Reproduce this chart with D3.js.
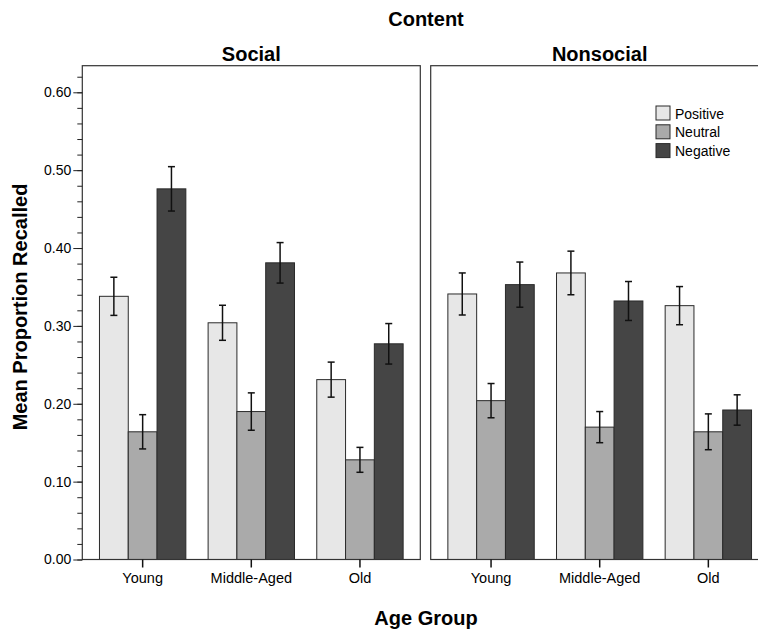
<!DOCTYPE html>
<html>
<head>
<meta charset="utf-8">
<script src="https://cdn.jsdelivr.net/npm/d3@7"></script>
<style>
  body { margin: 0; background: #fff; }
  text { font-family: "Liberation Sans", Arial, sans-serif; fill: #000; }
</style>
</head>
<body>
<svg id="chart"></svg>
<script>
const ages = ["Young", "Middle-Aged", "Old"];
const valences = ["Positive", "Neutral", "Negative"];
const panels = ["Social", "Nonsocial"];

// means per age group: [Positive, Neutral, Negative]
const socialMeans = [[0.338, 0.164, 0.476], [0.304, 0.190, 0.381], [0.231, 0.128, 0.277]];
const socialErr = [[0.0245, 0.022, 0.0285], [0.0225, 0.024, 0.026], [0.0225, 0.016, 0.026]];
const nonsocialMeans = [[0.341, 0.204, 0.353], [0.368, 0.170, 0.332], [0.326, 0.164, 0.192]];
const nonsocialErr = [[0.027, 0.022, 0.029], [0.028, 0.020, 0.025], [0.0245, 0.023, 0.0195]];

const yMajor = [0, 0.1, 0.2, 0.3, 0.4, 0.5, 0.6];
const yMinor = d3.range(0, 32).map(i => i * 0.02);

const width = 758;
const height = 635;
const plotTop = 65.7;
const base = 559.5;
const panelW = 338;
const panelX = [82.3, 430.7];

const colors = { Positive: "#e7e7e7", Neutral: "#aaaaaa", Negative: "#454545" };

const svg = d3.select("#chart").attr("width", width).attr("height", height);

const yScale = d3.scaleLinear().domain([0, 0.6]).range([base, 92.3]);

const x0 = d3.scaleBand().domain(ages).range([0, panelW]).paddingInner(0.205).paddingOuter(0.158);
const x1 = d3.scaleBand().domain(valences).range([0, x0.bandwidth()]).padding(0);

const rows = [];
[socialMeans, nonsocialMeans].forEach(function (m, p) {
  const err = p == 0 ? socialErr : nonsocialErr;
  ages.forEach(function (a, i) {
    valences.forEach(function (v, j) {
      rows.push({ panel: panels[p], age: a, valence: v, mean: m[i][j], se: err[i][j] });
    });
  });
});

// titles
svg.append("text").attr("x", 426).attr("y", 26).attr("text-anchor", "middle")
  .attr("font-size", 20).attr("font-weight", "bold").text("Content");

panels.forEach(function (name, p) {
  const g = svg.append("g").attr("transform", "translate(" + panelX[p] + ",0)");

  g.append("text").attr("x", panelW / 2).attr("y", 61).attr("text-anchor", "middle")
    .attr("font-size", 20).attr("font-weight", "bold").text(name);

  const data = rows.filter(d => d.panel == name);

  g.selectAll("rect.bar")
    .data(data)
    .join("rect")
    .attr("class", "bar")
    .attr("x", d => x0(d.age) + x1(d.valence))
    .attr("y", d => yScale(d.mean))
    .attr("width", x1.bandwidth())
    .attr("height", d => base - yScale(d.mean))
    .attr("fill", d => colors[d.valence])
    .attr("stroke", "#2a2a2a")
    .attr("stroke-width", 1);

  const eb = g.selectAll("g.err").data(data).join("g").attr("class", "err")
    .attr("transform", d => "translate(" + (x0(d.age) + x1(d.valence) + x1.bandwidth() / 2) + ",0)");
  eb.append("line").attr("y1", d => yScale(d.mean + d.se)).attr("y2", d => yScale(d.mean - d.se));
  eb.append("line").attr("x1", -3.5).attr("x2", 3.5)
    .attr("y1", d => yScale(d.mean + d.se)).attr("y2", d => yScale(d.mean + d.se));
  eb.append("line").attr("x1", -3.5).attr("x2", 3.5)
    .attr("y1", d => yScale(d.mean - d.se)).attr("y2", d => yScale(d.mean - d.se));
  eb.selectAll("line").attr("stroke", "#111").attr("stroke-width", 1.5);

  // panel frame
  g.append("rect").attr("x", 0).attr("y", plotTop).attr("width", panelW).attr("height", base - plotTop)
    .attr("fill", "none").attr("stroke", "#333").attr("stroke-width", 1.2);

  const axisBottom = d3.axisBottom(x0).tickSize(8).tickPadding(5).tickSizeOuter(0);
  const ax = g.append("g").attr("transform", "translate(0," + base + ")").call(axisBottom);
  ax.select(".domain").remove();
  ax.selectAll("line").attr("stroke", "#111").attr("stroke-width", 1.5);
  ax.selectAll("text").attr("font-size", 14.5).attr("font-family", "Liberation Sans, Arial, sans-serif");
});

// left axis: minor + major ticks
const minor = svg.append("g").attr("transform", "translate(" + panelX[0] + ",0)")
  .call(d3.axisLeft(yScale).tickValues(yMinor).tickSize(5).tickFormat(""));
minor.select(".domain").remove();
minor.selectAll("line").attr("stroke", "#222");

const major = svg.append("g").attr("transform", "translate(" + panelX[0] + ",0)")
  .call(d3.axisLeft(yScale).tickValues(yMajor).tickSize(9).tickPadding(2).tickFormat(d3.format(".2f")));
major.select(".domain").remove();
major.selectAll("line").attr("stroke", "#222");
major.selectAll("text").attr("font-size", 14).attr("font-family", "Liberation Sans, Arial, sans-serif");

// axis titles
svg.append("text").attr("transform", "translate(27,307) rotate(-90)").attr("text-anchor", "middle")
  .attr("font-size", 20).attr("font-weight", "bold").text("Mean Proportion Recalled");
svg.append("text").attr("x", 426).attr("y", 625).attr("text-anchor", "middle")
  .attr("font-size", 20).attr("font-weight", "bold").text("Age Group");

// legend
const legend = svg.append("g").attr("transform", "translate(656,106)");
const li = legend.selectAll("g").data(valences).join("g")
  .attr("transform", (d, i) => "translate(0," + i * 18.8 + ")");
li.append("rect").attr("width", 14).attr("height", 14)
  .attr("fill", d => colors[d]).attr("stroke", "#2a2a2a").attr("stroke-width", 1);
li.append("text").attr("x", 19).attr("y", 12.5).attr("font-size", 14).text(d => d);
</script>
</body>
</html>
